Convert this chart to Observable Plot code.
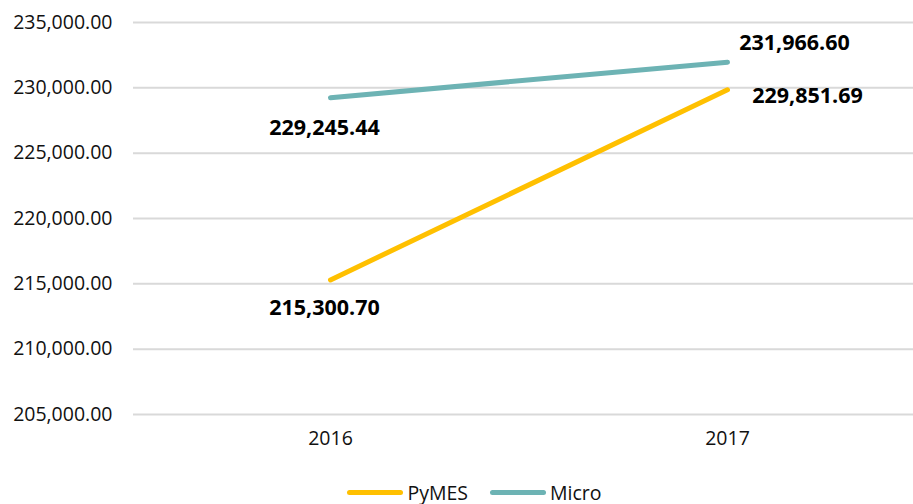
<!DOCTYPE html>
<html>
<head>
<meta charset="utf-8">
<script src="https://cdn.jsdelivr.net/npm/d3@7"></script>
<script src="https://cdn.jsdelivr.net/npm/@observablehq/plot@0.6"></script>
<style>
  html, body { margin: 0; padding: 0; background: #fff; }
  body { width: 913px; height: 504px; overflow: hidden; font-family: "Open Sans", sans-serif; }
  #legend { display: flex; justify-content: center; align-items: center; gap: 22px; height: 40px; font-size: 19.5px; color: #111; margin-left: 36px; margin-top: 22px; }
  .item { display: flex; align-items: center; gap: 4px; }
  .sw { width: 56px; height: 5px; border-radius: 3px; }
</style>
</head>
<body>
<div id="chart"></div>
<div id="legend"></div>
<script>
const years = ["2016", "2017"];
const seriesNames = ["PyMES", "Micro"];
const pymes = [215300.70, 229851.69];
const micro = [229245.44, 231966.60];
const yTicks = [205000, 210000, 215000, 220000, 225000, 230000, 235000];
const colors = ["#FFC000", "#6DB3B4"];

const data = [];
years.forEach((yr, i) => {
  data.push({year: yr, series: "PyMES", value: pymes[i]});
  data.push({year: yr, series: "Micro", value: micro[i]});
});
const fmt = d3.format(",.2f");
const lab = (s, yr) => d => d.series === s && d.year === yr;

const chart = Plot.plot({
  width: 913,
  height: 450,
  marginLeft: 133,
  marginRight: 0,
  marginTop: 22,
  marginBottom: 36,
  style: {fontFamily: "Open Sans, sans-serif", fontSize: "19.5px", color: "#111", background: "#fff"},
  x: {type: "point", domain: years, range: [330, 727], padding: 0, label: null, tickSize: 0, tickPadding: 17},
  y: {domain: [205000, 235000], ticks: yTicks, tickFormat: fmt, label: null, tickSize: 0, tickPadding: 21},
  color: {domain: seriesNames, range: colors},
  marks: [
    Plot.ruleY(yTicks, {stroke: "#d9d9d9", strokeWidth: 2}),
    Plot.line(data, {x: "year", y: "value", z: "series", stroke: "series", strokeWidth: 5, strokeLinecap: "round"}),
    Plot.text(data.filter(lab("Micro", "2016")), {x: "year", y: "value", text: d => fmt(d.value), dx: -6, dy: 30, fontWeight: "bold", fontSize: 21.5, fill: "#000"}),
    Plot.text(data.filter(lab("PyMES", "2016")), {x: "year", y: "value", text: d => fmt(d.value), dx: -6, dy: 28, fontWeight: "bold", fontSize: 21.5, fill: "#000"}),
    Plot.text(data.filter(lab("Micro", "2017")), {x: "year", y: "value", text: d => fmt(d.value), dx: 67, dy: -19, fontWeight: "bold", fontSize: 21.5, fill: "#000"}),
    Plot.text(data.filter(lab("PyMES", "2017")), {x: "year", y: "value", text: d => fmt(d.value), dx: 80, dy: 6, fontWeight: "bold", fontSize: 21.5, fill: "#000"})
  ]
});
document.getElementById("chart").appendChild(chart);

const legend = document.getElementById("legend");
seriesNames.forEach((s, i) => {
  const it = document.createElement("div");
  it.className = "item";
  const sw = document.createElement("div");
  sw.className = "sw";
  sw.style.background = colors[i];
  const t = document.createElement("span");
  t.textContent = s;
  it.appendChild(sw);
  it.appendChild(t);
  legend.appendChild(it);
});
</script>
</body>
</html>
